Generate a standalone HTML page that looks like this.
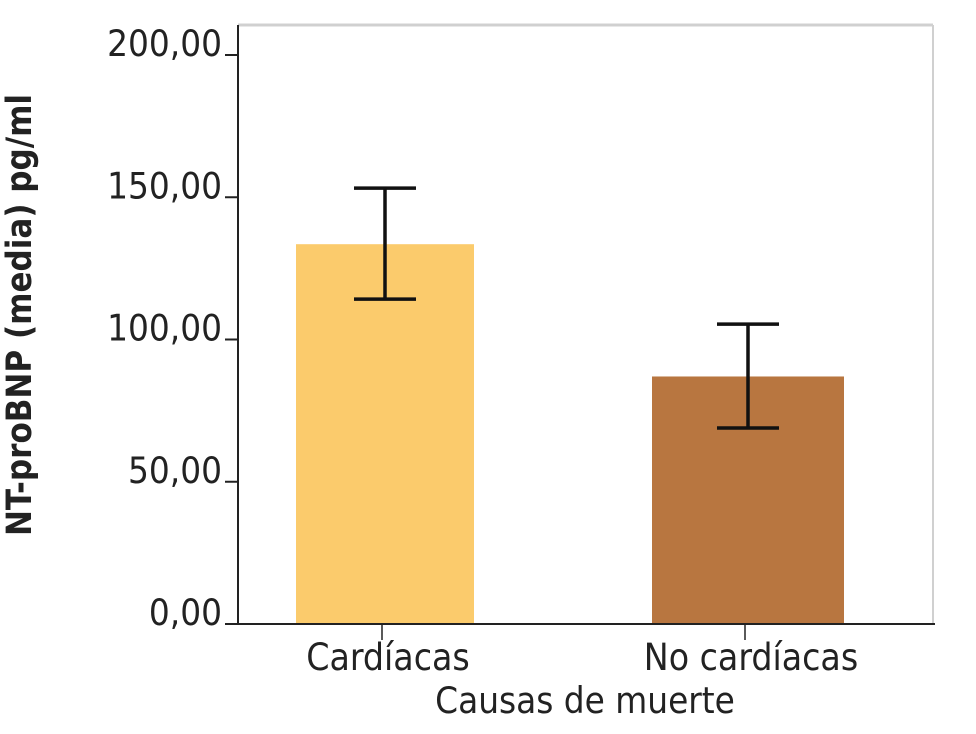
<!DOCTYPE html>
<html><head><meta charset="utf-8"><style>
html,body{margin:0;padding:0;background:#fff;}
svg text{font-family:"DejaVu Sans Condensed","DejaVu Sans","Liberation Sans",sans-serif;fill:#222;}
</style></head><body>
<svg id="chart" width="976" height="729" viewBox="0 0 976 729" xmlns="http://www.w3.org/2000/svg">
<rect x="0" y="0" width="976" height="729" fill="#fff"/>
<line x1="238" y1="25" x2="933" y2="25" stroke="#d0d0d0" stroke-width="3"/>
<line x1="933" y1="25" x2="933" y2="624" stroke="#d0d0d0" stroke-width="2"/>
<g id="bars"></g>
<line x1="238" y1="25" x2="238" y2="624" stroke="#222" stroke-width="2"/>
<line x1="225" y1="624" x2="935" y2="624" stroke="#222" stroke-width="2"/>
<g id="yticks"></g>
<g id="xticks"></g>
<text x="585" y="713" font-size="36.5" text-anchor="middle">Causas de muerte</text>
<text transform="translate(31,315) rotate(-90)" font-size="34.5" font-weight="bold" text-anchor="middle">NT-proBNP (media) pg/ml</text>
</svg>
<script>
const categories = ["Cardíacas", "No cardíacas"];
const means = [133.5, 87.0];
const errLow = [114.2, 68.9];
const errHigh = [153.2, 105.4];
const yTicks = [0, 50, 100, 150, 200];
const yTickLabels = ["0,00", "50,00", "100,00", "150,00", "200,00"];
const colors = ["#fbcb6c", "#b87640"];

const NS = "http://www.w3.org/2000/svg";
function y(v){ return 624 - v * (569/200); }
const centers = [385, 748];
const widths = [178, 192];
function x(i){ return centers[i]; }
function mk(tag, attrs, parent){
  const e = document.createElementNS(NS, tag);
  for (const k in attrs) e.setAttribute(k, attrs[k]);
  parent.appendChild(e); return e;
}
const bars = document.getElementById("bars");
categories.forEach((c, i) => {
  const r = mk("rect", {x: x(i) - widths[i]/2, y: y(means[i]), width: widths[i], height: y(0) - y(means[i]), fill: colors[i]}, bars);
  
  
  const g = mk("g", {stroke: "#111", "stroke-width": 3.5}, bars);
  
  
  mk("line", {x1: x(i), x2: x(i), y1: y(errLow[i]), y2: y(errHigh[i])}, g);
  mk("line", {x1: x(i) - 31, x2: x(i) + 31, y1: y(errLow[i]), y2: y(errLow[i])}, g);
  mk("line", {x1: x(i) - 31, x2: x(i) + 31, y1: y(errHigh[i]), y2: y(errHigh[i])}, g);
});
const yt = document.getElementById("yticks");
yTicks.forEach((v, i) => {
  const l = mk("line", {x1: 225, x2: 238, y1: y(v), y2: y(v), stroke: "#222", "stroke-width": 2}, yt);
  
  
  const t = mk("text", {x: 222, y: y(v) + 1, "font-size": 36.5, "text-anchor": "end"}, yt);
  t.textContent = yTickLabels[i];
  
  
});
const xt = document.getElementById("xticks");
categories.forEach((c, i) => {
  const l = mk("line", {x1: x(i) - 3, x2: x(i) - 3, y1: 624, y2: 640, stroke: "#222", "stroke-width": 1.5}, xt);
  
  
  const t = mk("text", {x: x(i) + 3, y: 670, "font-size": 37, "text-anchor": "middle"}, xt);
  t.textContent = c;
  
  
});
</script>
</body></html>
